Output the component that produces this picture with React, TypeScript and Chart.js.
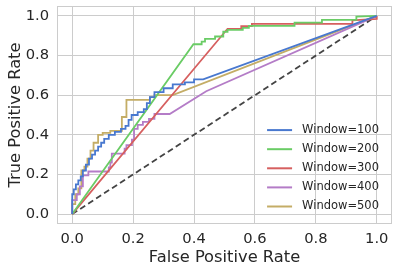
import React, { useEffect, useRef } from "react";
import { Chart, registerables } from "chart.js";

Chart.register(...registerables);

const seriesLabels = ["Window=100", "Window=200", "Window=300", "Window=400", "Window=500"];
const seriesColors = ["#4878CF", "#6ACC65", "#D65F5F", "#B47CC7", "#C4AD66"];

const fpr100 = [0, 0, 0.005, 0.005, 0.012, 0.012, 0.02, 0.02, 0.028, 0.028, 0.035, 0.035, 0.045, 0.045, 0.055, 0.055, 0.065, 0.065, 0.075, 0.075, 0.085, 0.085, 0.095, 0.095, 0.105, 0.105, 0.12, 0.12, 0.14, 0.14, 0.16, 0.16, 0.175, 0.175, 0.185, 0.185, 0.195, 0.195, 0.215, 0.215, 0.235, 0.235, 0.245, 0.245, 0.255, 0.255, 0.27, 0.27, 0.3, 0.3, 0.33, 0.33, 0.37, 0.37, 0.4, 0.4, 0.43, 1.0];
const tpr100 = [0, 0.1, 0.1, 0.125, 0.125, 0.15, 0.15, 0.17, 0.17, 0.19, 0.19, 0.22, 0.22, 0.25, 0.25, 0.28, 0.28, 0.3, 0.3, 0.32, 0.32, 0.34, 0.34, 0.36, 0.36, 0.38, 0.38, 0.4, 0.4, 0.415, 0.415, 0.43, 0.43, 0.445, 0.445, 0.475, 0.475, 0.5, 0.5, 0.515, 0.515, 0.53, 0.53, 0.56, 0.56, 0.59, 0.59, 0.615, 0.615, 0.635, 0.635, 0.655, 0.655, 0.665, 0.665, 0.68, 0.68, 1.0];

const fpr200 = [0, 0.398, 0.425, 0.425, 0.436, 0.436, 0.469, 0.469, 0.496, 0.496, 0.51, 0.51, 0.56, 0.56, 0.58, 0.58, 0.73, 0.73, 0.82, 0.82, 0.933, 0.933, 1.0];
const tpr200 = [0, 0.857, 0.857, 0.87, 0.87, 0.884, 0.884, 0.896, 0.896, 0.92, 0.92, 0.93, 0.93, 0.94, 0.94, 0.95, 0.95, 0.966, 0.966, 0.98, 0.98, 0.997, 1.0];

const fpr300 = [0, 0.51, 0.555, 0.555, 0.59, 0.59, 0.92, 0.92, 1.0, 1.0];
const tpr300 = [0, 0.935, 0.935, 0.948, 0.948, 0.96, 0.96, 0.978, 0.985, 1.0];

const fpr400 = [0, 0, 0.015, 0.015, 0.025, 0.025, 0.035, 0.035, 0.053, 0.053, 0.12, 0.12, 0.125, 0.125, 0.13, 0.13, 0.172, 0.172, 0.178, 0.178, 0.196, 0.196, 0.203, 0.203, 0.215, 0.215, 0.232, 0.232, 0.252, 0.252, 0.27, 0.27, 0.32, 0.44, 1.0];
const tpr400 = [0, 0.07, 0.07, 0.1, 0.1, 0.14, 0.14, 0.195, 0.195, 0.215, 0.215, 0.235, 0.235, 0.26, 0.26, 0.305, 0.305, 0.33, 0.33, 0.348, 0.348, 0.375, 0.375, 0.43, 0.43, 0.45, 0.45, 0.465, 0.465, 0.48, 0.48, 0.505, 0.505, 0.62, 1.0];

const fpr500 = [0, 0, 0.01, 0.01, 0.02, 0.02, 0.03, 0.03, 0.04, 0.04, 0.05, 0.05, 0.06, 0.06, 0.07, 0.07, 0.085, 0.085, 0.1, 0.1, 0.125, 0.125, 0.163, 0.163, 0.178, 0.178, 0.255, 0.255, 0.27, 0.27, 0.33, 1.0];
const tpr500 = [0, 0.05, 0.05, 0.1, 0.1, 0.13, 0.13, 0.22, 0.22, 0.24, 0.24, 0.28, 0.28, 0.32, 0.32, 0.36, 0.36, 0.4, 0.4, 0.41, 0.41, 0.42, 0.42, 0.49, 0.49, 0.576, 0.576, 0.59, 0.59, 0.6, 0.6, 1.0];

const chanceFpr = [0, 1];
const chanceTpr = [0, 1];

const axisTicks = [0, 0.2, 0.4, 0.6, 0.8, 1.0];
const xTitle = "False Positive Rate";
const yTitle = "True Positive Rate";

const FONT = "'DejaVu Sans', sans-serif";
const TEXT = "#262626";
const GRID = "#cccccc";

function toPoints(xs: number[], ys: number[]) {
  return xs.map((x, i) => ({ x, y: ys[i] }));
}

const borderPlugin = {
  id: "axesBorder",
  beforeDatasetsDraw(chart: any) {
    const { ctx, chartArea } = chart;
    ctx.save();
    ctx.strokeStyle = GRID;
    ctx.lineWidth = 1;
    ctx.strokeRect(
      Math.round(chartArea.left) + 0.5,
      Math.round(chartArea.top) + 0.5,
      Math.round(chartArea.right - chartArea.left) - 1,
      Math.round(chartArea.bottom - chartArea.top) - 1
    );
    ctx.restore();
  },
};

const legendPlugin = {
  id: "insideLegend",
  afterDatasetsDraw(chart: any) {
    const { ctx, chartArea } = chart;
    const textRight = chartArea.right - 13;
    ctx.save();
    ctx.font = `11.5px ${FONT}`;
    ctx.textBaseline = "middle";
    ctx.textAlign = "left";
    const textW = ctx.measureText(seriesLabels[0]).width;
    const textX = textRight - textW;
    const lineX1 = textX - 10;
    const lineX0 = lineX1 - 25;
    seriesLabels.forEach((label, i) => {
      const y = chartArea.bottom - 17.5 - (seriesLabels.length - 1 - i) * 19.1;
      ctx.strokeStyle = seriesColors[i];
      ctx.lineWidth = 2;
      ctx.beginPath();
      ctx.moveTo(lineX0, y);
      ctx.lineTo(lineX1, y);
      ctx.stroke();
      ctx.fillStyle = TEXT;
      ctx.fillText(label, textX, y);
    });
    ctx.restore();
  },
};

function zeroPadding(s: any) {
  s.paddingTop = 0;
  s.paddingBottom = 0;
  s.paddingLeft = 0;
  s.paddingRight = 0;
}

export default function App() {
  const canvasRef = useRef<HTMLCanvasElement | null>(null);

  useEffect(() => {
    if (!canvasRef.current) return;
    const series = [
      [fpr100, tpr100],
      [fpr200, tpr200],
      [fpr300, tpr300],
      [fpr400, tpr400],
      [fpr500, tpr500],
    ];
    const datasets: any[] = series.map(([xs, ys], i) => ({
      label: seriesLabels[i],
      data: toPoints(xs, ys),
      borderColor: seriesColors[i],
      backgroundColor: seriesColors[i],
      borderWidth: 1.8,
      pointRadius: 0,
      showLine: true,
      fill: false,
      tension: 0,
    }));
    datasets.push({
      label: "chance",
      data: toPoints(chanceFpr, chanceTpr),
      borderColor: "#444444",
      borderWidth: 1.8,
      borderDash: [6, 3.5],
      pointRadius: 0,
      showLine: true,
      fill: false,
    });

    const tickFont = { family: FONT, size: 14.7 };
    const titleFont = { family: FONT, size: 16.3 };

    const chart = new Chart(canvasRef.current, {
      type: "scatter",
      data: { datasets },
      options: {
        animation: false,
        responsive: false,
        layout: { padding: { top: 6, right: 7, left: 0, bottom: 0 } },
        plugins: {
          legend: { display: false },
          tooltip: { enabled: false },
        },
        scales: {
          x: {
            type: "linear",
            min: -0.05,
            max: 1.05,
            afterBuildTicks: (s: any) => {
              s.ticks = axisTicks.map((v) => ({ value: v }));
            },
            afterFit: (s: any) => {
              s.height = 48;
              zeroPadding(s);
            },
            grid: { color: GRID, lineWidth: 1, drawTicks: false },
            border: { display: false },
            ticks: {
              color: TEXT,
              font: tickFont,
              padding: 6,
              maxRotation: 0,
              callback: (v: any) => Number(v).toFixed(1),
            },
            title: {
              display: true,
              text: xTitle,
              color: TEXT,
              font: titleFont,
              padding: { top: 0, bottom: 4 },
            },
          },
          y: {
            type: "linear",
            min: -0.05,
            max: 1.05,
            afterBuildTicks: (s: any) => {
              s.ticks = axisTicks.map((v) => ({ value: v }));
            },
            afterFit: (s: any) => {
              s.width = 57;
              zeroPadding(s);
            },
            grid: { color: GRID, lineWidth: 1, drawTicks: false },
            border: { display: false },
            ticks: {
              color: TEXT,
              font: tickFont,
              padding: 8,
              callback: (v: any) => Number(v).toFixed(1),
            },
            title: {
              display: true,
              text: yTitle,
              color: TEXT,
              font: titleFont,
              padding: { top: 6, bottom: 0 },
            },
          },
        },
      } as any,
      plugins: [borderPlugin, legendPlugin],
    });
    return () => chart.destroy();
  }, []);

  return (
    <div style={{ position: "absolute", left: 0, top: 0, width: 399, height: 272, background: "#ffffff" }}>
      <canvas ref={canvasRef} width={399} height={272} style={{ display: "block" }} />
    </div>
  );
}
